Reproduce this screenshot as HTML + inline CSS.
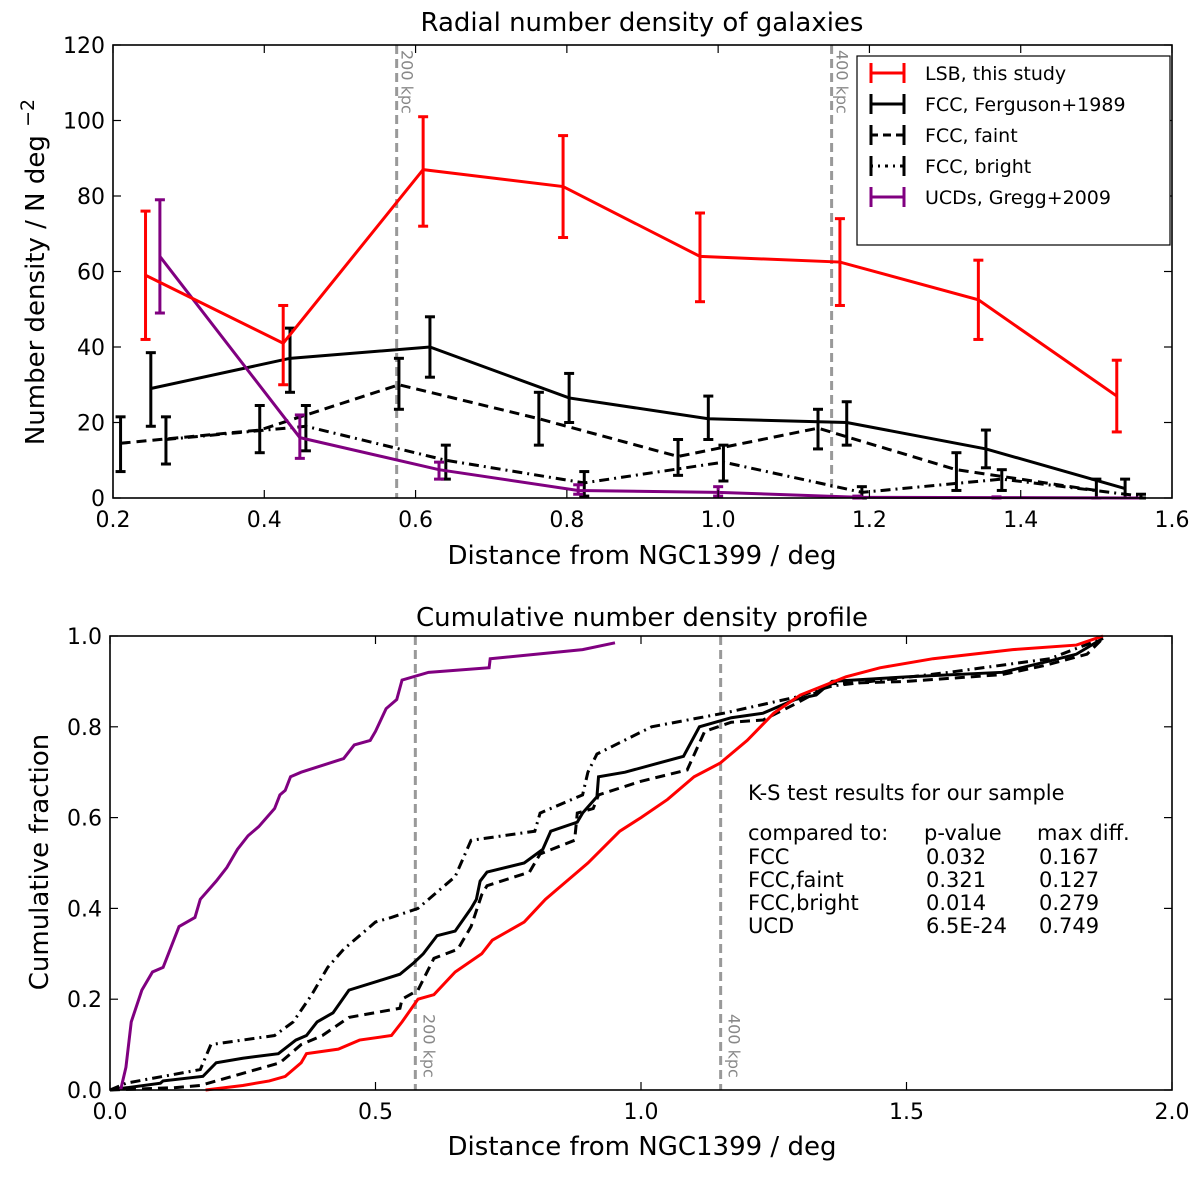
<!DOCTYPE html>
<html><head><meta charset="utf-8"><style>
body{margin:0;background:#fff;}
svg text{font-family:"DejaVu Sans","Liberation Sans",sans-serif;}
</style></head><body>
<svg id="fig" width="1200" height="1172" viewBox="0 0 1200 1172" xmlns="http://www.w3.org/2000/svg">
<g id="topchart"></g>
<g id="botchart"></g>
</svg>
<script>
// ---------- Top chart data ----------
const lsbX=[0.243,0.425,0.61,0.795,0.976,1.161,1.344,1.527];
const lsbY=[59,41,87,82.5,64,62.5,52.5,27];
const lsbLo=[42,30,72,69,52,51,42,17.5];
const lsbHi=[76,51,101,96,75.5,74,63,36.5];
const fccX=[0.25,0.434,0.619,0.803,0.987,1.17,1.354,1.538];
const fccY=[29,37,40,26.5,21,20,13,2.5];
const fccLo=[19,28,32,20,15.5,14,8,0];
const fccHi=[38.5,45,48,33,27,25.5,18,5];
const faintX=[0.21,0.394,0.578,0.763,0.947,1.132,1.315,1.5];
const faintY=[14.5,18,30,21,11,18.5,7.5,2];
const faintLo=[7,12,23.5,14,6,13,2,-1];
const faintHi=[21.5,24.5,37,28,15.5,23.5,12,5];
const brightX=[0.27,0.455,0.64,0.823,1.007,1.19,1.375,1.559];
const brightY=[15.5,19,10,4,9.5,1.5,5,0.5];
const brightLo=[9,12.5,5,0.5,4.5,0,2,0];
const brightHi=[21.5,24.5,14,7,14,3,7.5,1];
const ucdX=[0.262,0.447,0.631,0.815,1.0,1.184,1.368,1.55];
const ucdY=[64,16,7.5,2,1.5,0.2,0.1,0];
const ucdLo=[49,10.5,5,1,0.5,0,0,0];
const ucdHi=[79,22,9.5,3.5,3,0.5,0.3,0];
const topXTicks=[0.2,0.4,0.6,0.8,1.0,1.2,1.4,1.6];
const topYTicks=[0,20,40,60,80,100,120];
const kpcLines=[0.575,1.15];

// ---------- Bottom chart data ----------
const cUcdX=[0.02,0.03,0.04,0.06,0.08,0.1,0.11,0.13,0.16,0.17,0.2,0.22,0.24,0.26,0.28,0.31,0.32,0.33,0.34,0.36,0.44,0.46,0.49,0.5,0.52,0.54,0.55,0.6,0.714,0.716,0.89,0.951];
const cUcdY=[0,0.05,0.15,0.22,0.26,0.27,0.3,0.36,0.38,0.42,0.46,0.49,0.53,0.56,0.58,0.62,0.65,0.66,0.69,0.70,0.73,0.76,0.77,0.79,0.84,0.86,0.903,0.92,0.93,0.95,0.97,0.985];
const cLsbX=[0.18,0.25,0.3,0.33,0.36,0.37,0.43,0.47,0.53,0.55,0.58,0.61,0.65,0.7,0.72,0.78,0.82,0.88,0.9,0.96,1.0,1.05,1.1,1.149,1.2,1.25,1.3,1.386,1.45,1.55,1.7,1.82,1.87];
const cLsbY=[0,0.01,0.02,0.03,0.06,0.08,0.09,0.11,0.12,0.15,0.2,0.21,0.26,0.3,0.33,0.37,0.42,0.48,0.5,0.57,0.6,0.64,0.69,0.72,0.77,0.83,0.87,0.91,0.93,0.95,0.97,0.98,1.0];
const cFccX=[0,0.095,0.1,0.175,0.2,0.25,0.317,0.35,0.37,0.39,0.42,0.45,0.505,0.546,0.572,0.59,0.616,0.65,0.68,0.69,0.697,0.71,0.78,0.815,0.83,0.88,0.89,0.917,0.92,0.97,1.08,1.11,1.17,1.23,1.29,1.33,1.36,1.5,1.68,1.77,1.82,1.87];
const cFccY=[0,0.015,0.02,0.03,0.06,0.07,0.08,0.11,0.12,0.15,0.17,0.22,0.24,0.255,0.28,0.3,0.34,0.35,0.4,0.42,0.46,0.48,0.5,0.53,0.57,0.59,0.61,0.646,0.69,0.70,0.735,0.80,0.82,0.83,0.86,0.87,0.90,0.91,0.92,0.945,0.96,0.995];
const cFaintX=[0,0.12,0.17,0.23,0.32,0.36,0.4,0.45,0.546,0.55,0.58,0.61,0.655,0.68,0.7,0.71,0.79,0.81,0.875,0.88,0.91,0.92,1.0,1.087,1.12,1.17,1.23,1.29,1.36,1.5,1.68,1.76,1.84,1.87];
const cFaintY=[0,0.005,0.01,0.03,0.06,0.1,0.12,0.16,0.18,0.2,0.22,0.29,0.31,0.36,0.43,0.45,0.48,0.52,0.55,0.61,0.62,0.65,0.68,0.705,0.79,0.81,0.815,0.85,0.895,0.9,0.915,0.935,0.96,0.995];
const cBrightX=[0,0.03,0.17,0.19,0.31,0.345,0.38,0.41,0.44,0.5,0.53,0.58,0.61,0.65,0.68,0.8,0.81,0.89,0.9,0.917,1.02,1.156,1.29,1.36,1.58,1.77,1.87];
const cBrightY=[0,0.015,0.045,0.1,0.12,0.15,0.21,0.27,0.31,0.37,0.38,0.4,0.43,0.47,0.55,0.57,0.61,0.65,0.7,0.74,0.8,0.83,0.865,0.89,0.92,0.95,0.995];
const botXTicks=[0.0,0.5,1.0,1.5,2.0];
const botYTicks=[0.0,0.2,0.4,0.6,0.8,1.0];
const ksRows=[["FCC","0.032","0.167"],["FCC,faint","0.321","0.127"],["FCC,bright","0.014","0.279"],["UCD","6.5E-24","0.749"]];

const NS="http://www.w3.org/2000/svg";
function mk(parent,tag,attrs,text){const e=document.createElementNS(NS,tag);for(const k in attrs)e.setAttribute(k,attrs[k]);if(text!==undefined)e.textContent=text;parent.appendChild(e);return e;}
const LW=3;

// Top axes
const T={l:113,r:1172,t:45,b:498};
const tx=v=>T.l+(v-0.2)/1.4*(T.r-T.l);
const ty=v=>T.b-v/120*(T.b-T.t);
const topG=document.getElementById('topchart');
kpcLines.forEach((k,i)=>{
  const l=mk(topG,'line',{x1:tx(k),x2:tx(k),y1:T.t,y2:T.b,stroke:'#999','stroke-width':3,'stroke-dasharray':'9,5'});
  
  
  const t=mk(topG,'text',{x:0,y:0,'font-size':16,fill:'#888',transform:`translate(${tx(k)+5},${T.t+5}) rotate(90)`},i==0?'200 kpc':'400 kpc');
  
  
});
function series(g,X,Y,Lo,Hi,color,dash,name){
  const pts=X.map((x,i)=>tx(x)+','+ty(Y[i])).join(' ');
  const p=mk(g,'polyline',{points:pts,fill:'none',stroke:color,'stroke-width':LW,'stroke-dasharray':dash});
  
  
  X.forEach((x,i)=>{
    const eg=mk(g,'g',{stroke:color,'stroke-width':LW});
    
    
    const lo=Math.max(Lo[i],0);
    mk(eg,'line',{x1:tx(x),x2:tx(x),y1:ty(lo),y2:ty(Hi[i])});
    mk(eg,'line',{x1:tx(x)-5,x2:tx(x)+5,y1:ty(lo),y2:ty(lo)});
    mk(eg,'line',{x1:tx(x)-5,x2:tx(x)+5,y1:ty(Hi[i]),y2:ty(Hi[i])});
  });
}
series(topG,faintX,faintY,faintLo,faintHi,'#000','10,6','fcc-faint');
series(topG,brightX,brightY,brightLo,brightHi,'#000','10,5,2,5','fcc-bright');
series(topG,fccX,fccY,fccLo,fccHi,'#000','none','fcc');
series(topG,ucdX,ucdY,ucdLo,ucdHi,'#800080','none','ucd');
series(topG,lsbX,lsbY,lsbLo,lsbHi,'#ff0000','none','lsb');
function frame(g,A,xt,yt,fx,fy,fmtx,fmty,nm){
  const r=mk(g,'rect',{x:A.l,y:A.t,width:A.r-A.l,height:A.b-A.t,fill:'none',stroke:'#000','stroke-width':1.6});
  
  
  xt.forEach(v=>{const x=fx(v);
    mk(g,'line',{x1:x,x2:x,y1:A.b,y2:A.b-8,stroke:'#000','stroke-width':1.2});
    mk(g,'line',{x1:x,x2:x,y1:A.t,y2:A.t+8,stroke:'#000','stroke-width':1.2});
    const t=mk(g,'text',{x:x,y:A.b+29,'font-size':22,'text-anchor':'middle'},fmtx(v));
    
    });
  yt.forEach(v=>{const y=fy(v);
    mk(g,'line',{x1:A.l,x2:A.l+8,y1:y,y2:y,stroke:'#000','stroke-width':1.2});
    mk(g,'line',{x1:A.r,x2:A.r-8,y1:y,y2:y,stroke:'#000','stroke-width':1.2});
    const t=mk(g,'text',{x:A.l-8,y:y+8,'font-size':22,'text-anchor':'end'},fmty(v));
    
    });
}
frame(topG,T,topXTicks,topYTicks,tx,ty,v=>v.toFixed(1),v=>String(v),'top');
let el;
el=mk(topG,'text',{x:642,y:31,'font-size':26,'text-anchor':'middle'},'Radial number density of galaxies');


el=mk(topG,'text',{x:642,y:564,'font-size':26,'text-anchor':'middle'},'Distance from NGC1399 / deg');


el=mk(topG,'text',{x:0,y:0,'font-size':26,'text-anchor':'middle',transform:'translate(44,272) rotate(-90)'},'Number density / N deg ');


mk(el,'tspan',{dy:-10,'font-size':19},'−2');
// legend
const leg=mk(topG,'g',{});


mk(leg,'rect',{x:857,y:56,width:313,height:189,fill:'#fff',stroke:'#000','stroke-width':1.2});
const legItems=[['LSB, this study','#ff0000','none'],['FCC, Ferguson+1989','#000','none'],['FCC, faint','#000','8,5'],['FCC, bright','#000','3,5,2,5'],['UCDs, Gregg+2009','#800080','none']];
legItems.forEach((it,i)=>{
  const y=73+i*31;
  const g=mk(leg,'g',{stroke:it[1],'stroke-width':LW});
  
  
  mk(g,'line',{x1:870,x2:905,y1:y,y2:y,'stroke-dasharray':it[2]});
  mk(g,'line',{x1:871,x2:871,y1:y-10,y2:y+10});
  mk(g,'line',{x1:904,x2:904,y1:y-10,y2:y+10});
  mk(g,'text',{x:925,y:y+7,'font-size':19,stroke:'none',fill:'#000'},it[0]);
});

// Bottom axes
const B={l:110,r:1172,t:636,b:1090};
const bx=v=>B.l+v/2*(B.r-B.l);
const by=v=>B.b-v*(B.b-B.t);
const botG=document.getElementById('botchart');
kpcLines.forEach((k,i)=>{
  const l=mk(botG,'line',{x1:bx(k),x2:bx(k),y1:B.t,y2:B.b,stroke:'#999','stroke-width':3,'stroke-dasharray':'9,5'});
  
  
  const t=mk(botG,'text',{x:0,y:0,'font-size':16,fill:'#888',transform:`translate(${bx(k)+8},${1014}) rotate(90)`},i==0?'200 kpc':'400 kpc');
  
  
});
function cum(X,Y,color,dash,name){
  const p=mk(botG,'polyline',{points:X.map((x,i)=>bx(x)+','+by(Y[i])).join(' '),fill:'none',stroke:color,'stroke-width':LW,'stroke-dasharray':dash});
  
  
}
cum(cBrightX,cBrightY,'#000','10,5,2,5','cum-fcc-bright');
cum(cFaintX,cFaintY,'#000','10,6','cum-fcc-faint');
cum(cFccX,cFccY,'#000','none','cum-fcc');
cum(cLsbX,cLsbY,'#ff0000','none','cum-lsb');
cum(cUcdX,cUcdY,'#800080','none','cum-ucd');
frame(botG,B,botXTicks,botYTicks,bx,by,v=>v.toFixed(1),v=>v.toFixed(1),'bottom');
el=mk(botG,'text',{x:642,y:626,'font-size':26,'text-anchor':'middle'},'Cumulative number density profile');


el=mk(botG,'text',{x:642,y:1155,'font-size':26,'text-anchor':'middle'},'Distance from NGC1399 / deg');


el=mk(botG,'text',{x:0,y:0,'font-size':26,'text-anchor':'middle',transform:'translate(48,862) rotate(-90)'},'Cumulative fraction');


const ks=mk(botG,'g',{'font-size':21});


mk(ks,'text',{x:748,y:800},'K-S test results for our sample');
mk(ks,'text',{x:748,y:840},'compared to:');
mk(ks,'text',{x:924,y:840},'p-value');
mk(ks,'text',{x:1037,y:840},'max diff.');
ksRows.forEach((r,i)=>{
  const y=864+i*23;
  mk(ks,'text',{x:748,y:y},r[0]);
  mk(ks,'text',{x:926,y:y},r[1]);
  mk(ks,'text',{x:1039,y:y},r[2]);
});
</script>
</body></html>
